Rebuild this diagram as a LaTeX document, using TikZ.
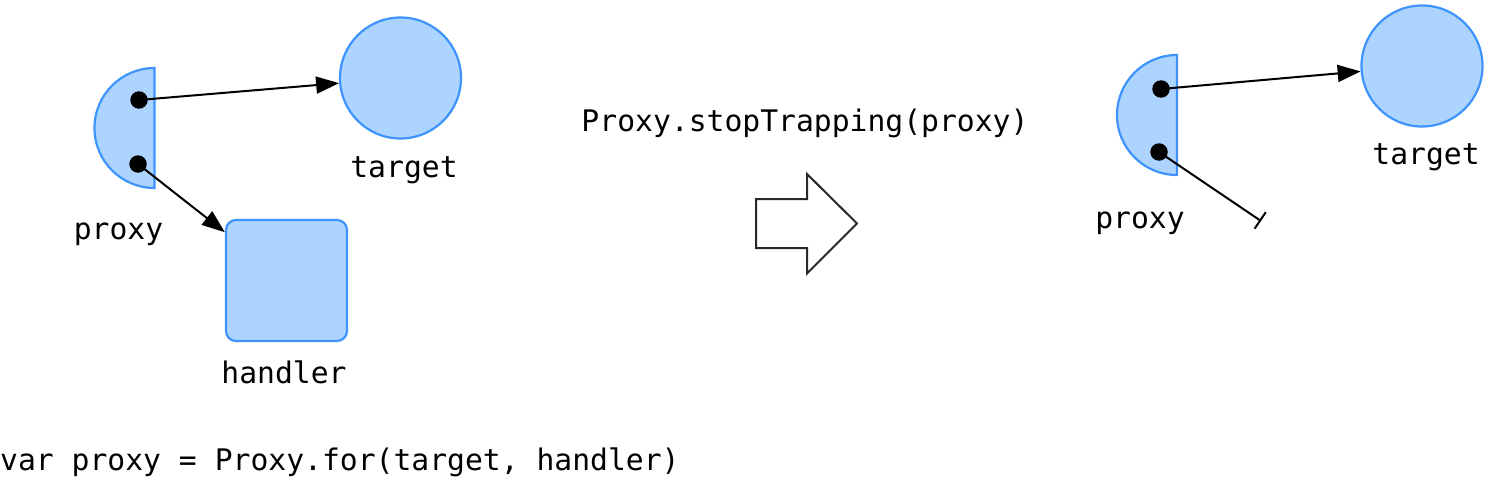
\documentclass[tikz,border=0pt]{standalone}
\usepackage{fontspec}
\newfontfamily\codefont{DejaVu Sans Mono}
\usetikzlibrary{arrows.meta}
\definecolor{objfill}{RGB}{173,212,255}
\definecolor{objline}{RGB}{62,148,252}
\definecolor{bigarrow}{RGB}{40,40,40}
\tikzset{
  obj/.style={draw=objline, fill=objfill, line width=2.2pt},
  dotnode/.style={circle, fill=black, inner sep=0pt, minimum size=17.5pt},
  lbl/.style={font=\codefont\fontsize{29.7}{32}\selectfont, inner sep=0pt, anchor=base},
  ref/.style={line width=2pt, -{Triangle[length=23pt,width=17pt]}},
  cutref/.style={line width=2pt, -{Bar[width=20pt,line width=2pt]}},
}
\begin{document}
\begin{tikzpicture}[x=1pt,y=-1pt]
\useasboundingbox (0,0) rectangle (1487,487);
% ---- left: before ----
\draw[obj] (154.5,68) arc[start angle=270, end angle=90, radius=60] -- cycle;
\node[dotnode] (p1) at (139,100) {};
\node[dotnode] (p2) at (138,164) {};
\node[obj, circle, minimum size=121pt, inner sep=0pt] (tgt) at (400.5,78) {};
\node[obj, rectangle, rounded corners=10pt, minimum size=121pt, inner sep=0pt] (hdl) at (286.5,280.5) {};
\draw[ref] (p1.center) -- (tgt);
\draw[ref] (p2.center) -- (hdl);
\node[lbl] (tl) at (404,177) {target};
\node[lbl] (pl) at (118.5,239) {proxy};
\node[lbl] (hl) at (284,383) {handler};
\node[lbl, anchor=base west] (code1) at (0,470) {var proxy = Proxy.for(target, handler)};
% ---- middle ----
\node[lbl] (code2) at (805,131) {Proxy.stopTrapping(proxy)};
\draw[draw=bigarrow, line width=2pt, line join=miter] (756,199) -- (807,199) -- (807,174) -- (857,223.5) -- (807,273.5) -- (807,248) -- (756,248) -- cycle;
% ---- right: after ----
\draw[obj] (1177,55) arc[start angle=270, end angle=90, radius=60] -- cycle;
\node[dotnode] (p3) at (1161,89) {};
\node[dotnode] (p4) at (1159,152) {};
\node[obj, circle, minimum size=121pt, inner sep=0pt] (tgt2) at (1422,66) {};
\coordinate (cut) at (1261,221);
\draw[ref] (p3.center) -- (tgt2);
\draw[cutref] (p4.center) -- (cut);
\node[lbl] (tl2) at (1426,164.5) {target};
\node[lbl] (pl2) at (1140,228) {proxy};
\end{tikzpicture}
\end{document}
